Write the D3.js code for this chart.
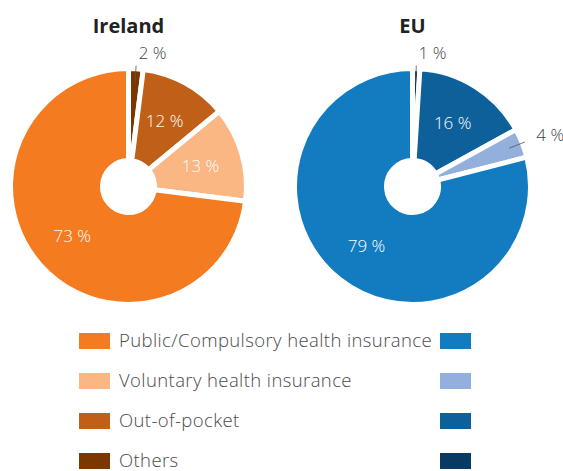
<!DOCTYPE html>
<html>
<head>
<meta charset="utf-8">
<script src="https://cdn.jsdelivr.net/npm/d3@7"></script>
<style>
  body { margin: 0; background: #fff; }
  svg { display: block; font-family: "Open Sans", sans-serif; }
</style>
</head>
<body>
<svg width="563" height="471"></svg>
<script>
// categories (legend order)
const categories = ["Public/Compulsory health insurance", "Voluntary health insurance", "Out-of-pocket", "Others"];
const countries = ["Ireland", "EU"];

// shares in %
const irelandValues = [73, 13, 12, 2];
const euValues = [79, 4, 16, 1];

const irelandColors = ["#f47b20", "#fab784", "#c05f17", "#7a3800"];
const euColors = ["#137cc1", "#92b0db", "#0e609b", "#083a63"];

const svg = d3.select("svg");

const outerR = 118, innerR = 26;
const centerX = d3.scalePoint().domain(countries).range([128.5, 412.5]);
const centerY = 186.5;

const arc = d3.arc().innerRadius(innerR).outerRadius(outerR);
// clockwise from 12 o'clock: Others, Out-of-pocket, Voluntary, Public
const pie = d3.pie().sort(null).value(d => d.value);

const datasets = [
  { name: "Ireland", values: irelandValues, colors: irelandColors },
  { name: "EU", values: euValues, colors: euColors }
];

function polar(r, a) {
  return [r * Math.sin(a), -r * Math.cos(a)];
}

datasets.forEach(ds => {
  const rows = categories.map((c, i) => ({ cat: c, value: ds.values[i], color: ds.colors[i] })).reverse();
  const g = svg.append("g")
    .attr("transform", `translate(${centerX(ds.name)},${centerY})`);

  g.selectAll("path")
    .data(pie(rows))
    .enter().append("path")
    .attr("d", arc)
    .attr("fill", d => d.data.color)
    .attr("stroke", "#fff")
    .attr("stroke-width", 5)
    .attr("stroke-linejoin", "miter");

  // title
  svg.append("text")
    .attr("x", centerX(ds.name))
    .attr("y", 33)
    .attr("text-anchor", "middle")
    .style("font-size", "20px")
    .style("font-weight", "bold")
    .style("fill", "#222")
    .text(ds.name);

  pie(rows).forEach(d => {
    const mid = (d.startAngle + d.endAngle) / 2;
    if (d.data.value >= 10) {
      const [x, y] = polar(75, mid);
      g.append("text")
        .attr("x", x)
        .attr("y", y)
        .attr("dy", "0.35em")
        .attr("text-anchor", "middle")
        .style("font-size", "17px")
        .style("font-weight", 300)
        .style("fill", "#fff")
        .text(d.data.value + " %");
    } else {
      const [x1, y1] = polar(104, mid);
      const [x2, y2] = polar(121, mid);
      const [tx, ty] = polar(131, mid);
      g.append("line")
        .attr("x1", x1).attr("y1", y1)
        .attr("x2", x2).attr("y2", y2)
        .attr("stroke", "#555")
        .attr("stroke-width", 0.8);
      g.append("text")
        .attr("x", tx + 2)
        .attr("y", ty - 3)
        .attr("dy", "0.35em")
        .attr("text-anchor", "start")
        .style("font-size", "17px")
        .style("font-weight", 300)
        .style("fill", "#444")
        .text(d.data.value + " %");
    }
  });
});

// legend
const legendY = d3.scalePoint().domain(categories).range([341, 461]);

const legend = svg.append("g");
categories.forEach((cat, i) => {
  const y = legendY(cat);
  legend.append("rect")
    .attr("x", 79).attr("y", y - 8)
    .attr("width", 31).attr("height", 16)
    .attr("fill", irelandColors[i]);
  legend.append("rect")
    .attr("x", 440).attr("y", y - 8)
    .attr("width", 31).attr("height", 16)
    .attr("fill", euColors[i]);
  legend.append("text")
    .attr("x", 119)
    .attr("y", y)
    .attr("dy", "0.35em")
    .style("font-size", "18.5px")
    .style("font-weight", 300)
    .style("letter-spacing", "0.4px")
    .style("fill", "#4a4a4a")
    .text(cat);
});
</script>
</body>
</html>
